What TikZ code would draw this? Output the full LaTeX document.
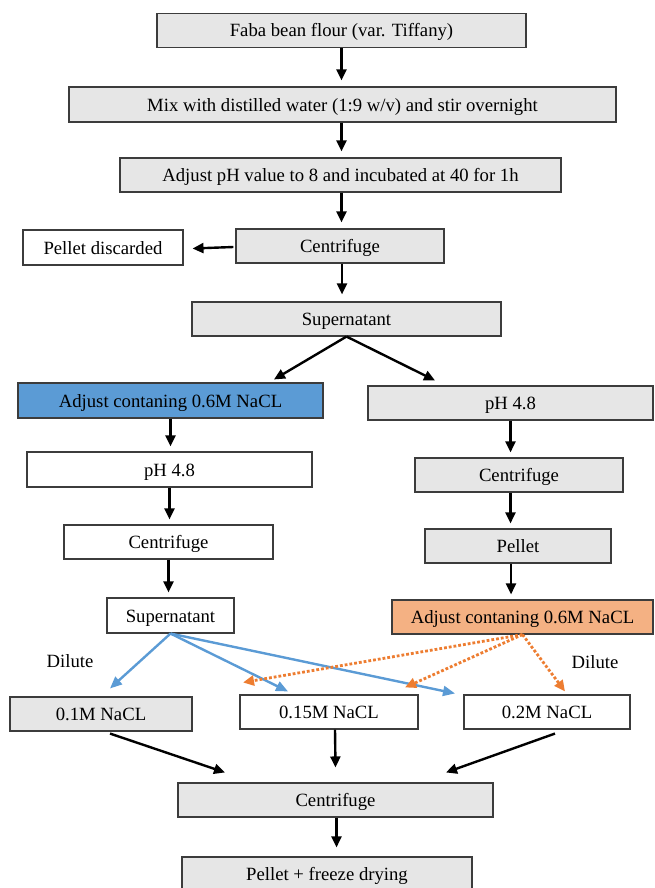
\documentclass[tikz,border=0pt]{standalone}
\usepackage{fontspec}
\setmainfont{Liberation Serif}
\usetikzlibrary{arrows.meta,calc}
\definecolor{boxgray}{RGB}{230,230,230}
\definecolor{boxline}{RGB}{60,60,60}
\definecolor{myblue}{RGB}{91,155,213}
\definecolor{myorange}{RGB}{237,125,49}
\definecolor{lightorange}{RGB}{244,177,131}
\tikzset{
  box/.style={draw=boxline, line width=1.1pt, fill=boxgray, inner sep=0pt, text height=14pt, text depth=1pt, font=\fontsize{18.7}{20}\selectfont, anchor=center},
  wbox/.style={box, fill=white},
  lbl/.style={font=\fontsize{18.7}{20}\selectfont, inner sep=0pt},
  arr/.style={line width=2.4pt, -{Triangle[length=11pt,width=10pt]}},
  barr/.style={draw=myblue, line width=2.4pt, -{Triangle[length=12pt,width=10pt]}},
  oarr/.style={draw=myorange, line width=2.8pt, dotted, -{Triangle[length=11pt,width=10pt]}},
}
\begin{document}
\begin{tikzpicture}[x=1pt,y=-1pt]
\useasboundingbox (0,0) rectangle (654,888);
\node[box, minimum width=369pt, minimum height=34pt] (faba) at (341.5,30.5) {Faba bean flour (var. Tiffany)};
\node[box, minimum width=547pt, minimum height=35pt] (mix) at (342.5,104.5) {Mix with distilled water (1:9 w/v) and stir overnight};
\node[box, minimum width=441pt, minimum height=34pt] (adj) at (340.5,175) {Adjust pH value to 8 and incubated at 40 for 1h};
\node[wbox, minimum width=160pt, minimum height=35pt] (disc) at (103,247.5) {Pellet discarded};
\node[box, minimum width=208pt, minimum height=34pt] (cen1) at (340,246) {Centrifuge};
\node[box, minimum width=309pt, minimum height=34pt] (sup1) at (346.5,319) {Supernatant};
\node[box, fill=myblue, minimum width=305pt, minimum height=35pt] (blue) at (170.5,400.5) {Adjust contaning 0.6M NaCL};
\node[box, minimum width=285pt, minimum height=34pt] (ph2) at (510.5,403) {pH 4.8};
\node[wbox, minimum width=285pt, minimum height=35pt] (ph1) at (169.5,469.5) {pH 4.8};
\node[wbox, minimum width=209pt, minimum height=34pt] (cenL) at (168.5,542) {Centrifuge};
\node[box, minimum width=208pt, minimum height=34pt] (cenR) at (519,475) {Centrifuge};
\node[box, minimum width=186pt, minimum height=34pt] (pel) at (518,546) {Pellet};
\node[wbox, minimum width=127pt, minimum height=35pt] (sup2) at (170.5,615.5) {Supernatant};
\node[box, fill=lightorange, minimum width=261pt, minimum height=34pt] (ora) at (522.5,617) {Adjust contaning 0.6M NaCL};
\node[lbl] (dil1) at (70,661) {Dilute};
\node[lbl] (dil2) at (595,662) {Dilute};
\node[box, minimum width=182pt, minimum height=34pt] (n01) at (101,714) {0.1M NaCL};
\node[wbox, minimum width=178pt, minimum height=34pt] (n015) at (329,712) {0.15M NaCL};
\node[wbox, minimum width=166pt, minimum height=34pt] (n02) at (547,712) {0.2M NaCL};
\node[box, minimum width=315pt, minimum height=34pt] (cenF) at (335.5,800) {Centrifuge};
\node[box, minimum width=290pt, minimum height=34pt] (fin) at (327,874) {Pellet + freeze drying};

\draw[arr] (faba.south) -- ($(faba.south |- mix.north)+(0,-6)$);
\draw[arr] ($(faba.south |- mix.south)$) -- ($(faba.south |- adj.north)+(0,-6)$);
\draw[arr] ($(faba.south |- adj.south)$) -- ($(faba.south |- cen1.north)+(0,-6)$);
\draw[arr] ($(cen1.west)+(-2,1)$) -- ($(disc.east)+(9,1)$);
\draw[arr] ($(cen1.south)+(2,0)$) -- ($(cen1.south |- sup1.north)+(2,-7)$);
\draw[arr] (sup1.south) -- ($(blue.north)+(103.5,-3)$);
\draw[arr] (sup1.south) -- ($(ph2.north)+(-75.5,-5)$);
\draw[arr] (blue.south) -- ($(blue.south |- ph1.north)+(0,-5)$);
\draw[arr] (ph1.south) -- ($(ph1.south |- cenL.north)+(0,-5)$);
\draw[arr] (cenL.south) -- ($(cenL.south |- sup2.north)+(0,-5)$);
\draw[arr] (ph2.south) -- ($(ph2.south |- cenR.north)+(0,-5)$);
\draw[arr] (ph2.south |- cenR.south) -- ($(ph2.south |- pel.north)+(0,-5)$);
\draw[arr] ($(pel.south)+(-7,0)$) -- ($(pel.south |- ora.north)+(-7,-5)$);

\draw[barr] (sup2.south) -- ($(n01.north)+(9,-8)$);
\draw[barr] (sup2.south) -- ($(n015.north)+(-41,-3)$);
\draw[barr] (sup2.south) -- ($(n02.north)+(-92,-1)$);

\draw[oarr] (ora.south) -- ($(n015.north)+(-86,-12)$);
\draw[oarr] (ora.south) -- ($(n015.north)+(76,-7)$);
\draw[oarr] (ora.south) -- ($(n02.north)+(18,-3)$);

\draw[arr] ($(n01.south)+(9,2)$) -- ($(cenF.north)+(-110.5,-10)$);
\draw[arr] ($(n015.south)+(6,0)$) -- ($(cenF.north)+(0,-15)$);
\draw[arr] ($(n02.south)+(8,4)$) -- ($(cenF.north)+(110.5,-10)$);
\draw[arr] ($(cenF.south)+(1,0)$) -- ($(cenF.south |- fin.north)+(1,-9)$);
\end{tikzpicture}
\end{document}
